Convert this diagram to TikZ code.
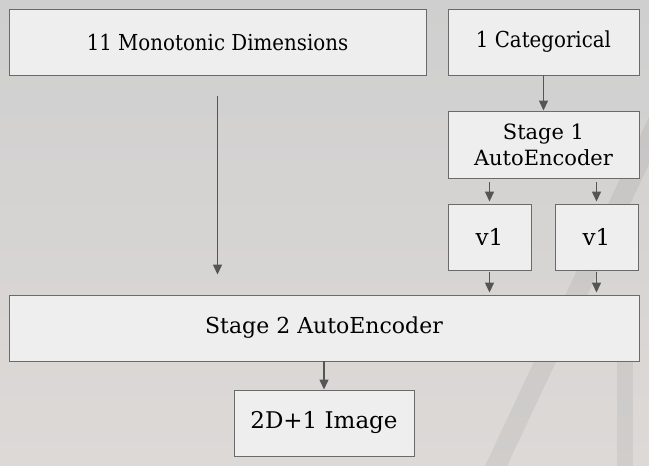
\documentclass[tikz,border=0pt]{standalone}
\usepackage{fontspec}
\setmainfont{DejaVu Serif}
\usetikzlibrary{arrows.meta}
\definecolor{boxfill}{HTML}{EEEEEE}
\definecolor{boxline}{HTML}{6A6A6A}
\definecolor{flowgray}{HTML}{555555}
\definecolor{skytop}{HTML}{CFCFCF}
\definecolor{skybottom}{HTML}{DDD9D7}
\def\stagenode{\node[stagebox]}
\def\drawflow{\draw[flow]}

\begin{document}
\begin{tikzpicture}[x=1pt,y=-1pt,
  stagebox/.style={draw=boxline,fill=boxfill,line width=0.9pt,inner sep=0pt,align=center,font=\fontsize{22}{28}\selectfont},
  narrowfont/.style={font=\fontsize{22}{28}\selectfont\addfontfeatures{FakeStretch=0.9}},
  backdrop/.style={fill=black,opacity=0.055,draw=none},
  flow/.style={draw=flowgray,line width=1.3pt,-{Triangle[width=9pt,length=10pt]},color=flowgray}]
\shade[top color=skytop,bottom color=skybottom] (0,0) rectangle (649,466);
\useasboundingbox (0,0) rectangle (649,466);
\fill[backdrop] (485,466) -- (507,466) -- (649,164) -- (649,117) -- cycle;
\fill[backdrop] (617,345) rectangle (633,466);
\stagenode[narrowfont,minimum width=417pt,minimum height=66pt] (mono) at (217.5,42) {11 Monotonic Dimensions};
\stagenode[narrowfont,minimum width=191pt,minimum height=66pt] (cat) at (543.5,42) {1 Categorical};
\stagenode[minimum width=191pt,minimum height=67pt,font=\fontsize{21}{26}\selectfont] (stageone) at (543.5,144.5) {Stage 1\\AutoEncoder};
\stagenode[minimum width=83pt,minimum height=66pt,font=\fontsize{23}{28}\selectfont] (vleft) at (489.5,237) {v1};
\stagenode[minimum width=83pt,minimum height=66pt,font=\fontsize{23}{28}\selectfont] (vright) at (596.5,237) {v1};
\stagenode[minimum width=630pt,minimum height=66pt] (stagetwo) at (324,328) {Stage 2 AutoEncoder};
\stagenode[minimum width=180pt,minimum height=66pt,font=\fontsize{23}{28}\selectfont] (image) at (324,423) {2D+1 Image};
\drawflow[shorten <=21pt,shorten >=20pt] (mono.south) -- (mono.south |- stagetwo.north);
\drawflow (cat) -- (stageone);
\drawflow[shorten <=4pt,shorten >=2pt] (stageone.south -| vleft.north) -- (vleft.north);
\drawflow[shorten <=4pt,shorten >=2pt] (stageone.south -| vright.north) -- (vright.north);
\drawflow[shorten <=2pt,shorten >=2pt] (vleft.south) -- (vleft.south |- stagetwo.north);
\drawflow[shorten <=2pt,shorten >=2pt] (vright.south) -- (vright.south |- stagetwo.north);
\drawflow (stagetwo) -- (image);
\end{tikzpicture}
\end{document}
